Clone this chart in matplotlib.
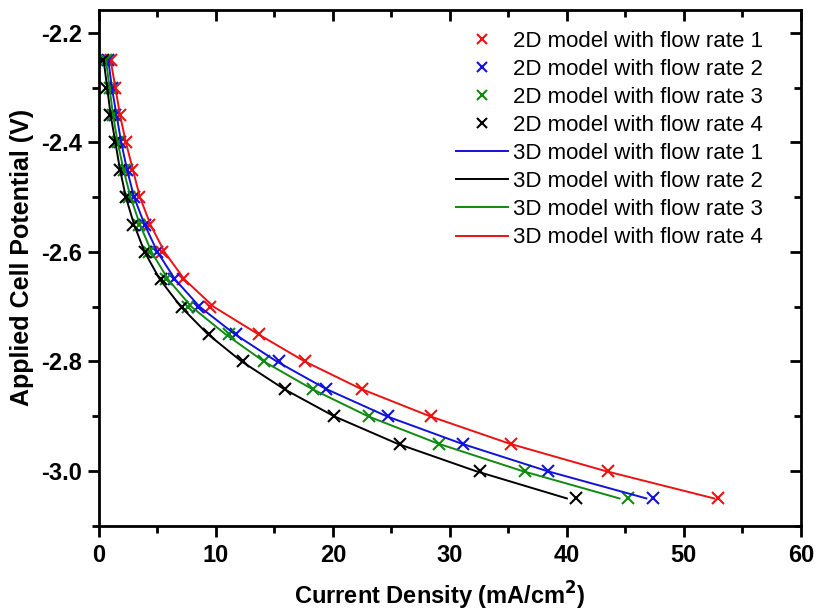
import matplotlib.pyplot as plt
import numpy as np
from matplotlib.ticker import MultipleLocator

# applied potentials (V) shared by all series
potential = [-2.25, -2.30, -2.35, -2.40, -2.45, -2.50, -2.55, -2.60, -2.65,
             -2.70, -2.75, -2.80, -2.85, -2.90, -2.95, -3.00, -3.05]

# 2D model current densities (mA/cm2), markers
cd_2d_rate1 = [1.0, 1.4, 1.8, 2.3, 2.8, 3.4, 4.3, 5.4, 7.2, 9.5, 13.7, 17.6,
               22.5, 28.4, 35.2, 43.5, 52.9]
cd_2d_rate2 = [0.8, 1.1, 1.4, 1.8, 2.4, 3.0, 3.9, 5.0, 6.4, 8.5, 11.7, 15.4,
               19.4, 24.7, 31.1, 38.4, 47.4]
cd_2d_rate3 = [0.6, 0.9, 1.2, 1.6, 2.1, 2.6, 3.4, 4.3, 5.7, 7.6, 11.1, 14.1,
               18.3, 23.1, 29.1, 36.4, 45.2]
cd_2d_rate4 = [0.35, 0.6, 0.9, 1.4, 1.8, 2.3, 2.9, 3.9, 5.3, 7.1, 9.4, 12.3,
               15.9, 20.1, 25.7, 32.6, 40.8]

# 3D model current densities (mA/cm2), lines
cd_3d_rate1 = [0.8, 1.1, 1.5, 1.9, 2.4, 3.0, 3.9, 5.0, 6.5, 8.6, 11.6, 15.2,
               19.4, 24.6, 31.0, 38.3, 46.8]
cd_3d_rate2 = [0.4, 0.7, 1.0, 1.4, 1.8, 2.3, 3.0, 3.9, 5.2, 7.0, 9.3, 12.2,
               15.8, 20.1, 25.5, 32.2, 40.0]
cd_3d_rate3 = [0.6, 0.9, 1.2, 1.6, 2.1, 2.7, 3.5, 4.5, 5.9, 7.9, 10.8, 14.1,
               18.2, 23.0, 29.0, 36.2, 44.5]
cd_3d_rate4 = [1.0, 1.4, 1.8, 2.3, 2.9, 3.5, 4.4, 5.6, 7.3, 9.8, 13.6, 17.6,
               22.4, 28.3, 35.1, 43.3, 52.6]

RED = "#ee1111"
BLUE = "#1111dd"
GREEN = "#118a11"
BLACK = "#000000"

plt.rcParams['font.family'] = ['Liberation Sans', 'DejaVu Sans']

fig = plt.figure(figsize=(8.18, 6.15), dpi=100)
ax = fig.add_axes([0.121, 0.145, 0.858, 0.839])

mk = dict(marker="x", linestyle="none", markersize=9, markeredgewidth=1.5)
ax.plot(cd_2d_rate1, potential, color=RED, label="2D model with flow rate 1", **mk)
ax.plot(cd_2d_rate2, potential, color=BLUE, label="2D model with flow rate 2", **mk)
ax.plot(cd_2d_rate3, potential, color=GREEN, label="2D model with flow rate 3", **mk)
ax.plot(cd_2d_rate4, potential, color=BLACK, label="2D model with flow rate 4", **mk)

ln = dict(linewidth=1.4)
ax.plot(cd_3d_rate1, potential, color=BLUE, label="3D model with flow rate 1", **ln)
ax.plot(cd_3d_rate2, potential, color=BLACK, label="3D model with flow rate 2", **ln)
ax.plot(cd_3d_rate3, potential, color=GREEN, label="3D model with flow rate 3", **ln)
ax.plot(cd_3d_rate4, potential, color=RED, label="3D model with flow rate 4", **ln)

ax.set_xlim(0, 60)
ax.set_ylim(-3.1, -2.158)

ax.xaxis.set_major_locator(MultipleLocator(10))
ax.xaxis.set_minor_locator(MultipleLocator(5))
ax.yaxis.set_major_locator(MultipleLocator(0.2))
ax.yaxis.set_minor_locator(MultipleLocator(0.1))
ax.yaxis.set_major_formatter(plt.FuncFormatter(lambda v, p: f"{v:.1f}"))

for side in ax.spines.values():
    side.set_linewidth(2)

ax.tick_params(which="both", width=2, direction="out")
ax.tick_params(which="major", length=8)
ax.tick_params(which="minor", length=5)
ax.tick_params(axis="x", labelsize=17, pad=5)
ax.tick_params(axis="y", labelsize=17, pad=4)
for lab in ax.get_xticklabels() + ax.get_yticklabels():
    lab.set_fontweight("bold")

# mirrored ticks pointing inward on top and right
axt = ax.secondary_xaxis("top")
axt.xaxis.set_major_locator(MultipleLocator(10))
axt.xaxis.set_minor_locator(MultipleLocator(5))
axt.tick_params(which="both", direction="in", width=2, labeltop=False)
axt.tick_params(which="major", length=8)
axt.tick_params(which="minor", length=5)
axr = ax.secondary_yaxis("right")
axr.yaxis.set_major_locator(MultipleLocator(0.2))
axr.yaxis.set_minor_locator(MultipleLocator(0.1))
axr.tick_params(which="both", direction="in", width=2, labelright=False)
axr.tick_params(which="major", length=8)
axr.tick_params(which="minor", length=5)

ax.set_xlabel("Current Density (mA/cm$\\mathbf{^2}$)", fontsize=17,
              fontweight="bold")
ax.xaxis.set_label_coords(0.485, -0.105)
ax.set_ylabel("Applied Cell Potential (V)", fontsize=18, fontweight="bold")
ax.yaxis.set_label_coords(-0.093, 0.52)

ax.legend(loc="upper right", bbox_to_anchor=(0.968, 0.99), frameon=False,
          fontsize=16, labelspacing=0.32, handlelength=2.35, handletextpad=0.22,
          markerscale=0.75, borderaxespad=0.3)

fig.savefig("out.png", dpi=100)
